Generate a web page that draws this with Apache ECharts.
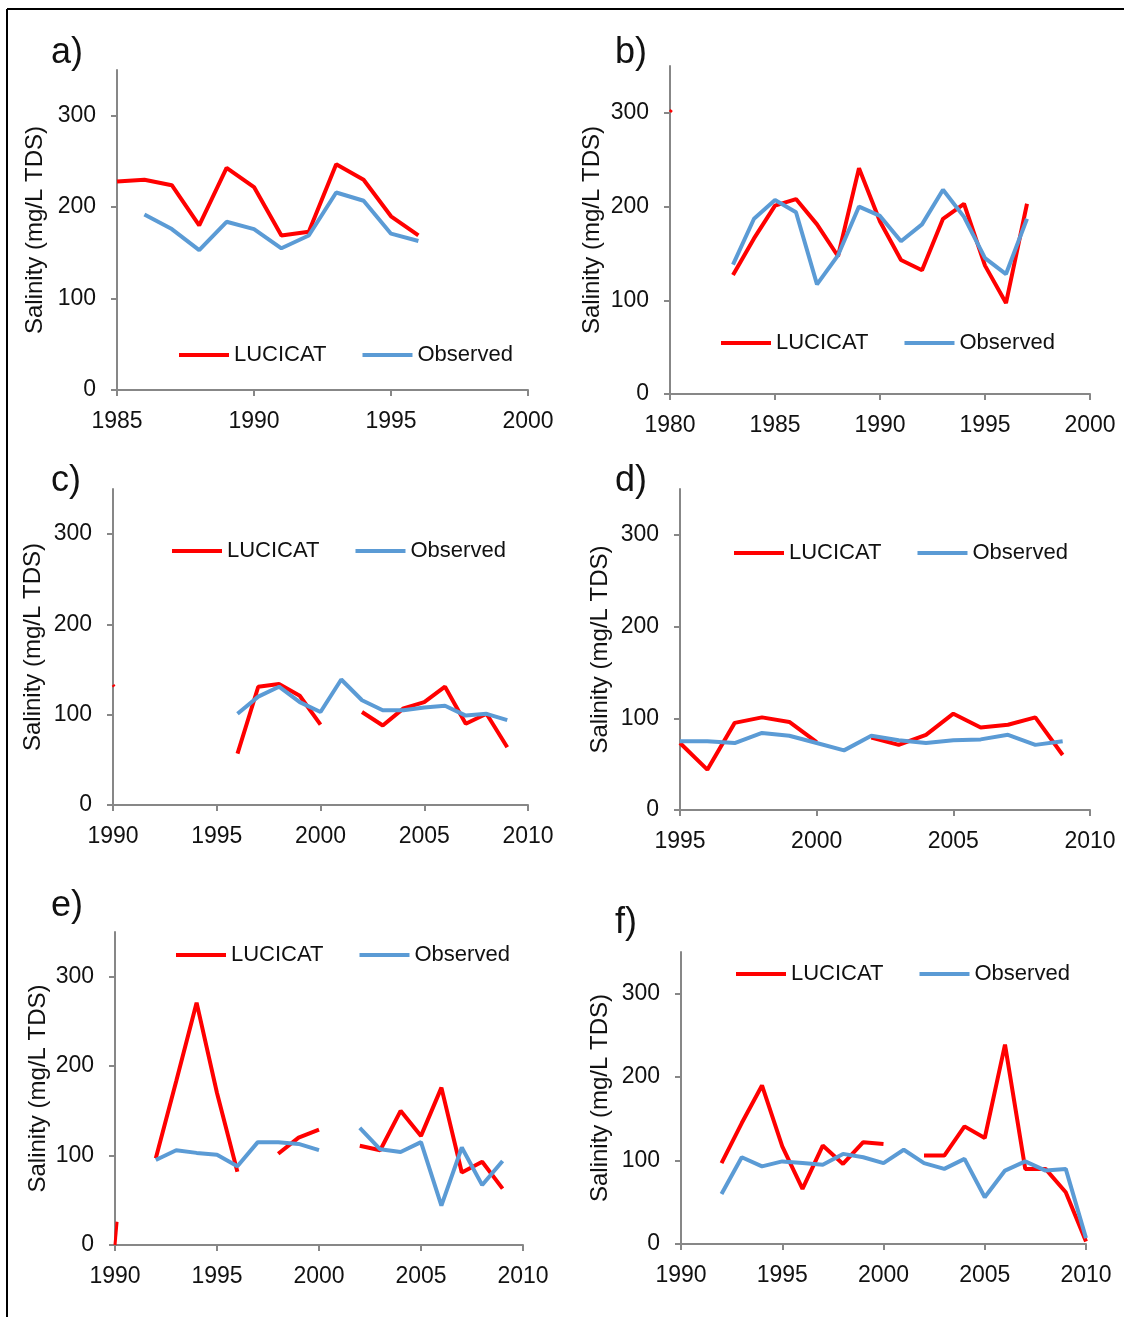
<!DOCTYPE html>
<html>
<head>
<meta charset="utf-8">
<script src="https://cdn.jsdelivr.net/npm/echarts@6/dist/echarts.min.js"></script>
<style>
  html, body { margin: 0; padding: 0; background: #fff; }
  #chart { width: 1124px; height: 1317px; }
</style>
</head>
<body>
<div id="chart"></div>
<script>
// Annual salinity, modelled (LUCICAT) vs observed, six catchments
const yearsA = [1985, 1986, 1987, 1988, 1989, 1990, 1991, 1992, 1993, 1994, 1995, 1996];
const lucicatA = [228, 230, 224, 180, 243, 222, 169, 173, 247, 230, 190, 169];
const observedA = [null, 192, 176, 153, 184, 176, 155, 169, 216, 207, 171, 163];

const yearsB = [1983, 1984, 1985, 1986, 1987, 1988, 1989, 1990, 1991, 1992, 1993, 1994, 1995, 1996, 1997];
const lucicatB = [127, 166, 201, 208, 181, 147, 241, 184, 143, 132, 187, 203, 137, 97, 203];
const observedB = [138, 187, 207, 194, 117, 148, 200, 190, 163, 181, 218, 189, 145, 128, 187];

const yearsC = [1996, 1997, 1998, 1999, 2000, 2001, 2002, 2003, 2004, 2005, 2006, 2007, 2008, 2009];
const lucicatC = [57, 131, 134, 121, 89, null, 103, 88, 107, 114, 131, 90, 101, 64];
const observedC = [101, 120, 131, 114, 103, 139, 116, 105, 105, 108, 110, 99, 101, 94];

const yearsD = [1995, 1996, 1997, 1998, 1999, 2000, 2001, 2002, 2003, 2004, 2005, 2006, 2007, 2008, 2009];
const lucicatD = [73, 44, 95, 101, 96, 74, null, 79, 71, 82, 105, 90, 93, 101, 60];
const observedD = [75, 75, 73, 84, 81, 73, 65, 81, 76, 73, 76, 77, 82, 71, 75];

const yearsE = [1992, 1993, 1994, 1995, 1996, 1997, 1998, 1999, 2000, 2001, 2002, 2003, 2004, 2005, 2006, 2007, 2008, 2009];
const lucicatE = [97, 183, 271, 170, 82, null, 102, 120, 129, null, 111, 106, 150, 122, 176, 81, 93, 63];
const observedE = [95, 106, 103, 101, 88, 115, 115, 113, 106, null, 131, 107, 104, 115, 44, 109, 67, 94];

const yearsF = [1992, 1993, 1994, 1995, 1996, 1997, 1998, 1999, 2000, 2001, 2002, 2003, 2004, 2005, 2006, 2007, 2008, 2009, 2010];
const lucicatF = [97, 145, 190, 117, 66, 118, 96, 122, 120, null, 106, 106, 141, 127, 239, 90, 90, 62, 3];
const observedF = [60, 104, 93, 99, 97, 95, 108, 104, 97, 113, 97, 90, 102, 56, 88, 99, 88, 90, 7];

// short clipped fragments of the modelled series at the left edge of some panels
const stubB = [[1980, 301], [1980.08, 303]];
const stubC = [[1990, 133], [1990.06, 131]];
const stubE = [[1990, 0], [1990.1, 26]];

const yTicks = [0, 100, 200, 300];

const panels = [
  { label: 'a)', years: yearsA, luc: lucicatA, obs: observedA, xMin: 1985, xMax: 2000,
    grid: { left: 117, top: 70, width: 411, height: 320 }, labelPos: [46, 52], legend: [174, 351], nameGap: 70, stub: null },
  { label: 'b)', years: yearsB, luc: lucicatB, obs: observedB, xMin: 1980, xMax: 2000,
    grid: { left: 670, top: 66, width: 420, height: 328 }, labelPos: [610, 52], legend: [716, 339], nameGap: 66, stub: stubB },
  { label: 'c)', years: yearsC, luc: lucicatC, obs: observedC, xMin: 1990, xMax: 2010,
    grid: { left: 113, top: 489, width: 415, height: 316 }, labelPos: [46, 480], legend: [167, 547], nameGap: 68, stub: stubC },
  { label: 'd)', years: yearsD, luc: lucicatD, obs: observedD, xMin: 1995, xMax: 2010,
    grid: { left: 680, top: 489, width: 410, height: 321 }, labelPos: [610, 480], legend: [729, 549], nameGap: 68, stub: null },
  { label: 'e)', years: yearsE, luc: lucicatE, obs: observedE, xMin: 1990, xMax: 2010,
    grid: { left: 115, top: 932, width: 408, height: 313 }, labelPos: [46, 905], legend: [171, 951], nameGap: 65, stub: stubE },
  { label: 'f)', years: yearsF, luc: lucicatF, obs: observedF, xMin: 1990, xMax: 2010,
    grid: { left: 681, top: 952, width: 405, height: 292 }, labelPos: [610, 922], legend: [731, 970], nameGap: 69, stub: null }
];

const FONT = 'Liberation Sans, Arial, sans-serif';
const RED = '#ff0000';
const BLUE = '#5b9bd5';
const AXIS = '#878787';

const pairs = (xs, ys) => xs.map((x, i) => [x, ys[i]]);

const option = {
  animation: false,
  backgroundColor: '#ffffff',
  grid: [], xAxis: [], yAxis: [], series: [], legend: [], title: [],
  graphic: [
    { type: 'line', shape: { x1: 7, y1: 9, x2: 1124, y2: 9 }, style: { stroke: '#000', lineWidth: 2 } },
    { type: 'line', shape: { x1: 7, y1: 9, x2: 7, y2: 1317 }, style: { stroke: '#000', lineWidth: 2 } }
  ]
};

panels.forEach((p, i) => {
  option.grid.push(Object.assign({ containLabel: false }, p.grid));
  option.xAxis.push({
    type: 'value', gridIndex: i, min: p.xMin, max: p.xMax, interval: 5,
    splitLine: { show: false },
    axisLine: { onZero: false, lineStyle: { color: AXIS, width: 2 } },
    axisTick: { show: true, length: 6, lineStyle: { color: AXIS, width: 2 } },
    axisLabel: { color: '#111', fontSize: 23, fontFamily: FONT, margin: 20, formatter: v => String(v) }
  });
  option.yAxis.push({
    type: 'value', gridIndex: i, min: 0, max: 350, interval: 100,
    name: 'Salinity (mg/L TDS)', nameLocation: 'middle', nameGap: p.nameGap, nameRotate: 90,
    nameTextStyle: { color: '#111', fontSize: 24, fontFamily: FONT },
    splitLine: { show: false },
    axisLine: { show: true, lineStyle: { color: AXIS, width: 2 } },
    axisTick: { show: true, length: 6, customValues: yTicks, lineStyle: { color: AXIS, width: 2 } },
    axisLabel: { color: '#111', fontSize: 23, fontFamily: FONT, margin: 21, customValues: yTicks }
  });
  option.series.push({
    name: 'LUCICAT', type: 'line', xAxisIndex: i, yAxisIndex: i,
    data: pairs(p.years, p.luc), showSymbol: false, symbol: 'none', connectNulls: false,
    lineStyle: { color: RED, width: 4 }, itemStyle: { color: RED }, z: 3
  });
  option.series.push({
    name: 'Observed', type: 'line', xAxisIndex: i, yAxisIndex: i,
    data: pairs(p.years, p.obs), showSymbol: false, symbol: 'none', connectNulls: false,
    lineStyle: { color: BLUE, width: 4 }, itemStyle: { color: BLUE }, z: 4
  });
  if (p.stub) {
    option.series.push({
      name: 'LUCICAT', type: 'line', xAxisIndex: i, yAxisIndex: i,
      data: p.stub, showSymbol: false, symbol: 'none',
      lineStyle: { color: RED, width: 3 }, itemStyle: { color: RED }, z: 3
    });
  }
  option.legend.push({
    left: p.legend[0], top: p.legend[1] - 12, orient: 'horizontal',
    data: ['LUCICAT', 'Observed'], selectedMode: false,
    icon: 'rect', itemWidth: 50, itemHeight: 4, itemGap: 36,
    textStyle: { color: '#111', fontSize: 22, fontFamily: FONT }
  });
  option.title.push({
    text: p.label, left: p.labelPos[0], top: p.labelPos[1] - 22,
    textStyle: { color: '#111', fontSize: 36, fontWeight: 'normal', fontFamily: FONT }
  });
});

const chart = echarts.init(document.getElementById('chart'), null, { renderer: 'canvas' });
chart.setOption(option);
</script>
</body>
</html>
